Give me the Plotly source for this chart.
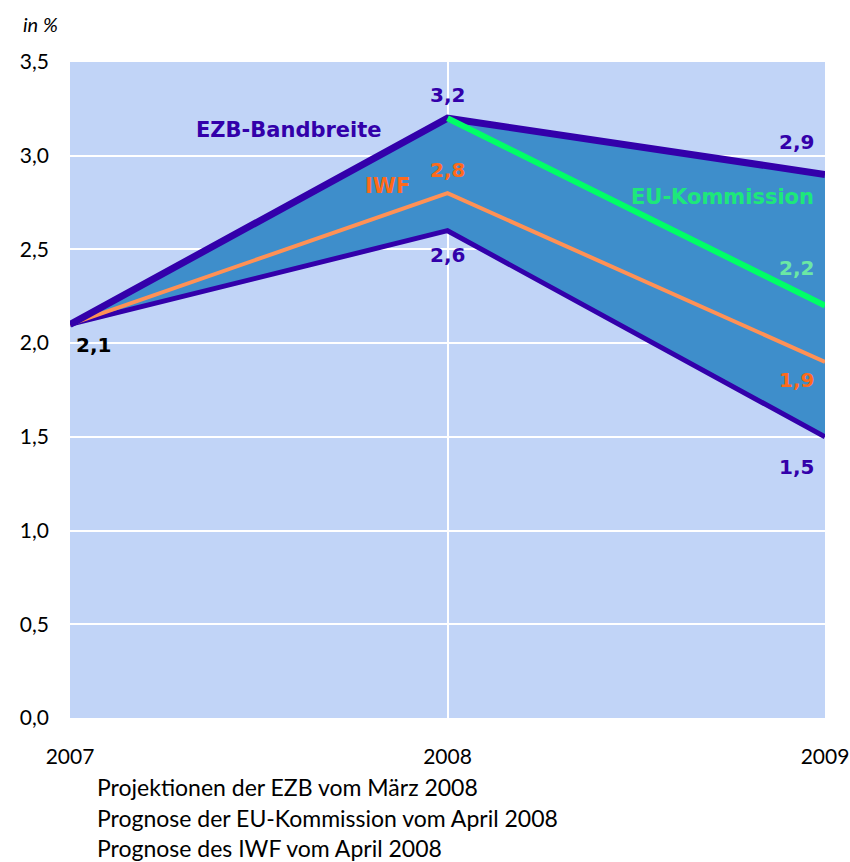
import plotly.graph_objects as go

years = [2007, 2008, 2009]
ezb_upper = [2.1, 3.2, 2.9]
ezb_lower = [2.1, 2.6, 1.5]
iwf = [2.1, 2.8, 1.9]
eu_komm = [None, 3.2, 2.2]
y_ticks = [0.0, 0.5, 1.0, 1.5, 2.0, 2.5, 3.0, 3.5]
y_ticklabels = ["0,0", "0,5", "1,0", "1,5", "2,0", "2,5", "3,0", "3,5"]
x_ticklabels = ["2007", "2008", "2009"]
footer_lines = [
    "Projektionen der EZB vom März 2008",
    "Prognose der EU-Kommission vom April 2008",
    "Prognose des IWF vom April 2008",
]

PURPLE = "#3300aa"
ORANGE_LINE = "#ff9155"
ORANGE_TXT = "#ff6a1a"
GREEN_LINE = "#00ff66"
GREEN_TXT = "#1de87a"
GREEN_LIGHT = "#6be8a4"
BG = "#c1d4f7"
FILL = "#3e8ecb"
FONT = "Lato"
BOLD = "DejaVu Sans"

W, H = 850, 862
L, R, T, B = 70, 825, 62, 718

fig = go.Figure()
fig.add_trace(go.Scatter(x=years, y=ezb_lower, mode="lines", line=dict(width=0, color=FILL),
                         showlegend=False, hoverinfo="skip"))
fig.add_trace(go.Scatter(x=years, y=ezb_upper, mode="lines", line=dict(width=0, color=FILL),
                         fill="tonexty", fillcolor=FILL, showlegend=False, hoverinfo="skip"))
fig.add_trace(go.Scatter(x=years, y=ezb_lower, mode="lines", line=dict(width=5, color=PURPLE),
                         showlegend=False))
fig.add_trace(go.Scatter(x=years, y=iwf, mode="lines", line=dict(width=4, color=ORANGE_LINE),
                         showlegend=False))
fig.add_trace(go.Scatter(x=years, y=ezb_upper, mode="lines", line=dict(width=7, color=PURPLE),
                         showlegend=False))
fig.add_trace(go.Scatter(x=years, y=eu_komm, mode="lines", line=dict(width=6, color=GREEN_LINE),
                         showlegend=False))


def fmt(v):
    return f"{v:.1f}".replace(".", ",")


def ann(x, y, color, xanchor="center", xshift=0, yshift=0):
    fig.add_annotation(x=x, y=y, xref="x", yref="y", text=f"<b>{fmt(y)}</b>",
                       showarrow=False, font=dict(family=BOLD, size=20, color=color),
                       xanchor=xanchor, yanchor="middle", xshift=xshift, yshift=yshift)


ann(years[1], ezb_upper[1], PURPLE, yshift=23)
ann(years[1], iwf[1], ORANGE_TXT, yshift=23)
ann(years[1], ezb_lower[1], PURPLE, yshift=-24)
ann(years[0], ezb_lower[0], "#000000", xshift=23, yshift=-21)
ann(years[2], ezb_upper[2], PURPLE, xanchor="right", xshift=-9, yshift=32)
ann(years[2], eu_komm[2], GREEN_LIGHT, xanchor="right", xshift=-9, yshift=38)
ann(years[2], iwf[2], ORANGE_TXT, xanchor="right", xshift=-9, yshift=-18)
ann(years[2], ezb_lower[2], PURPLE, xanchor="right", xshift=-9, yshift=-30)


def to_paper(px, py):
    return (px - L) / (R - L), (B - py) / (B - T)


for txt, px, py, col, xa in [
    ("EZB-Bandbreite", 384, 130, PURPLE, "right"),
    ("IWF", 387, 186, ORANGE_TXT, "center"),
    ("EU-Kommission", 816, 197, GREEN_TXT, "right"),
]:
    x, y = to_paper(px, py)
    fig.add_annotation(x=x, y=y, xref="paper", yref="paper", text=f"<b>{txt}</b>", showarrow=False,
                       font=dict(family=BOLD, size=21, color=col), xanchor=xa, yanchor="middle")

x, y = to_paper(21, 24)
fig.add_annotation(x=x, y=y, xref="paper", yref="paper", text="<i>in %</i>", showarrow=False,
                   font=dict(family=FONT, size=20, color="#000000"), xanchor="left", yanchor="middle")

for i, line in enumerate(footer_lines):
    x, y = to_paper(95, 787 + 30.5 * i)
    fig.add_annotation(x=x, y=y, xref="paper", yref="paper", text=line, showarrow=False,
                       font=dict(family=FONT, size=23, color="#000000"), xanchor="left", yanchor="middle")

fig.update_layout(
    width=W, height=H,
    margin=dict(l=L, r=W - R, t=T, b=H - B, autoexpand=False),
    paper_bgcolor="white", plot_bgcolor=BG,
    showlegend=False,
    xaxis=dict(range=[2007, 2009], tickvals=years, ticktext=x_ticklabels, automargin=False,
               showgrid=True, gridcolor="white", gridwidth=2, zeroline=False, showline=False,
               tickfont=dict(family=FONT, size=21, color="#000000"), ticklabelstandoff=24),
    yaxis=dict(range=[0, 3.5], tickvals=y_ticks, ticktext=y_ticklabels, automargin=False,
               showgrid=True, gridcolor="white", gridwidth=2, zeroline=False, showline=False,
               tickfont=dict(family=FONT, size=21, color="#000000"), ticklabelstandoff=20),
)

fig.write_html(
    "out.html",
    config={"displayModeBar": False},
    post_script="document.body.style.margin='0';document.body.style.overflow='hidden';",
)
